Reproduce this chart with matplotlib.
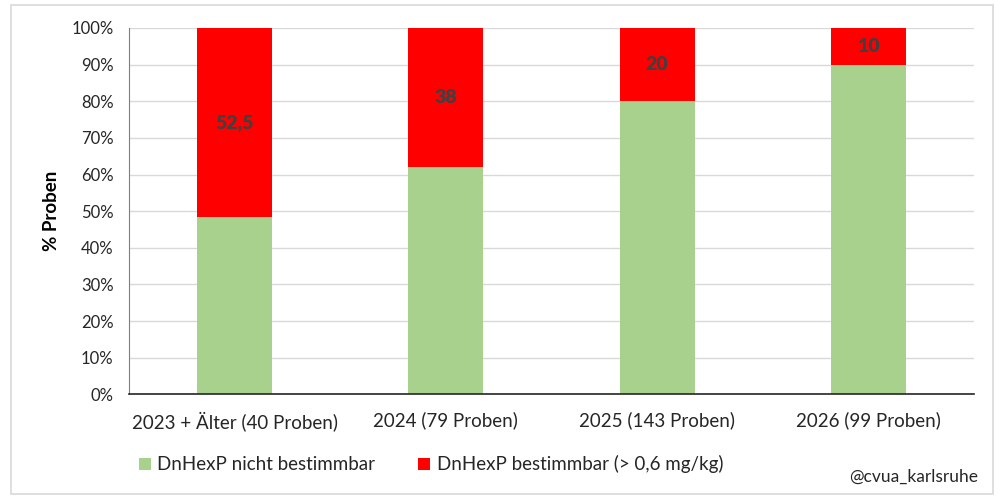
import numpy as np
import matplotlib.pyplot as plt
from matplotlib.patches import Rectangle

plt.rcParams['font.family'] = ['Lato', 'DejaVu Sans']

categories = ['2023 + Älter (40 Proben)', '2024 (79 Proben)', '2025 (143 Proben)', '2026 (99 Proben)']
nicht_bestimmbar = [48.5, 62, 80, 90]
bestimmbar = [52.5, 38, 20, 10]
label_text = ['52,5', '38', '20', '10']

green = '#a9d18e'
red = '#ff0000'

fig = plt.figure(figsize=(10.02, 4.97), dpi=100)
ax = fig.add_axes([0.1287, 0.2066, 0.8433, 0.7371])

x = np.arange(len(categories))
b1 = ax.bar(x, nicht_bestimmbar, width=0.355, color=green, zorder=2,
            label='DnHexP nicht bestimmbar')
b2 = ax.bar(x, bestimmbar, width=0.355, bottom=nicht_bestimmbar, color=red, zorder=2,
            label='DnHexP bestimmbar (> 0,6 mg/kg)')

for i in range(len(x)):
    top = min(nicht_bestimmbar[i] + bestimmbar[i], 100)
    ax.text(x[i], (nicht_bestimmbar[i] + top) / 2, label_text[i], ha='center', va='center',
            fontsize=14, fontweight='heavy', color='#404040', zorder=3)

ax.set_xlim(-0.5, len(x) - 0.5)
ax.set_ylim(0, 100)
ax.set_yticks(range(0, 101, 10))
ax.set_yticklabels([f'{v}%' for v in range(0, 101, 10)], fontsize=12)
ax.set_xticks(x)
ax.set_xticklabels(categories, fontsize=13.5)
ax.tick_params(axis='both', length=0, colors='#262626')
ax.tick_params(axis='x', pad=12)
ax.tick_params(axis='y', pad=11)
ax.grid(axis='y', color='#d9d9d9', linewidth=1, zorder=0)
for s in ['top', 'right']:
    ax.spines[s].set_visible(False)
ax.spines['left'].set_color('#7f7f7f')
ax.spines['bottom'].set_color('#262626')
ax.spines['bottom'].set_linewidth(1.2)
ax.set_ylabel('% Proben', fontsize=13.5, fontweight='bold', color='#000000', labelpad=8)

fig.legend(handles=[b1, b2], loc='center left', bbox_to_anchor=(0.122, 0.066), ncol=2,
           frameon=False, fontsize=13.5, handlelength=0.62, handleheight=0.62,
           handletextpad=0.35, columnspacing=2.3, labelcolor='#262626')

fig.text(0.976, 0.04, '@cvua_karlsruhe', ha='right', va='center', fontsize=12.5, color='#262626')

fig.patches.append(Rectangle((11 / 1002, 3 / 497), 982 / 1002, 489 / 497, transform=fig.transFigure,
                             fill=False, edgecolor='#d9d9d9', linewidth=1.2))

fig.savefig('out.png', dpi=100)
